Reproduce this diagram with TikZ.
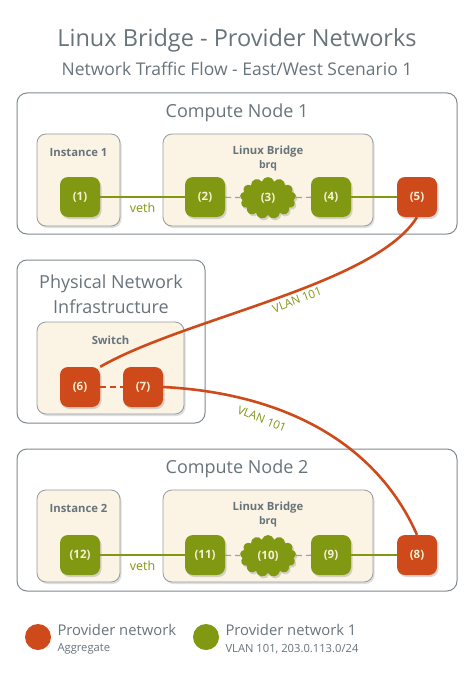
\documentclass[tikz,border=0pt]{standalone}
\usepackage{fontspec}
\setmainfont{Open Sans}
\usepackage{xcolor}
\usepackage{tikz}
\usetikzlibrary{arrows.meta, positioning}
\usetikzlibrary{shapes.symbols}
\usetikzlibrary{shadows}

\definecolor{provorange}{RGB}{206,74,26}
\definecolor{provgreen}{RGB}{128,152,18}
\definecolor{boxgray}{RGB}{128,138,144}
\definecolor{txtgray}{RGB}{104,116,123}
\definecolor{beige}{RGB}{251,244,228}
\definecolor{porttxt}{RGB}{246,241,212}

\tikzset{
  hostbox/.style={draw=boxgray, line width=1pt, rounded corners=10pt, fill=white},
  innerbox/.style={draw=boxgray!85, line width=0.8pt, rounded corners=9pt, fill=beige,
    drop shadow={opacity=0.25, shadow xshift=1.5pt, shadow yshift=-2pt}},
  port/.style={rounded corners=8pt, minimum size=40pt, inner sep=0pt, text=porttxt,
    font=\bfseries\fontsize{11.5}{13}\selectfont,
    drop shadow={opacity=0.3, shadow xshift=1.5pt, shadow yshift=-2pt}},
  gport/.style={port, fill=provgreen},
  oport/.style={port, fill=provorange},
  bridgecloud/.style={port, cloud, cloud puffs=13, cloud ignores aspect, rounded corners=0pt,
    minimum width=56pt, minimum height=42pt, fill=provgreen},
  hosttitle/.style={text=txtgray, font=\fontsize{18}{21}\selectfont},
  boxtitle/.style={text=txtgray, font=\bfseries\fontsize{11.3}{13}\selectfont},
  gline/.style={provgreen, line width=2.4pt},
  oline/.style={provorange, line width=2.6pt},
  dline/.style={draw=boxgray!80, line width=1.2pt, dash pattern=on 6pt off 4pt},
  vlan/.style={text=provgreen, font=\fontsize{11.5}{13}\selectfont},
  vethlbl/.style={text=provgreen, font=\fontsize{12.5}{14}\selectfont},
}

\begin{document}
\begin{tikzpicture}[x=1pt,y=-1pt]
  \fill[white] (0,0) rectangle (474,679);
  \useasboundingbox (0,0) rectangle (474,679);

  % titles
  \node[text=txtgray, font=\fontsize{23.5}{28}\selectfont] (title) at (237,40) {Linux Bridge - Provider Networks};
  \node[text=txtgray, font=\fontsize{17.5}{20}\selectfont] (subtitle) at (237,69) {Network Traffic Flow - East/West Scenario 1};

  % compute node 1
  \node[hostbox, minimum width=440pt, minimum height=141pt] (cn1) at (237,163.5) {};
  \node[hosttitle] (cn1lbl) at (237,113) {Compute Node 1};
  \node[innerbox, minimum width=83pt, minimum height=92pt] (inst1) at (78.5,180) {};
  \node[boxtitle] (inst1lbl) at (78.5,153) {Instance 1};
  \node[innerbox, minimum width=210pt, minimum height=92pt] (br1) at (268,180) {};
  \node[boxtitle] (br1lbl) at (268,152) {Linux Bridge};
  \node[boxtitle, font=\bfseries\fontsize{10.5}{12}\selectfont] (br1sub) at (268,166) {brq};

  % physical network
  \node[hostbox, minimum width=188pt, minimum height=163pt] (phys) at (111,341.5) {};
  \node[hosttitle, align=center, font=\fontsize{18}{25}\selectfont] (physlbl) at (111,294) {Physical Network\\Infrastructure};
  \node[innerbox, minimum width=147pt, minimum height=92pt] (sw) at (110.5,368) {};
  \node[boxtitle] (swlbl) at (110.5,340) {Switch};

  % compute node 2
  \node[hostbox, minimum width=440pt, minimum height=142pt] (cn2) at (237,520) {};
  \node[hosttitle] (cn2lbl) at (237,469) {Compute Node 2};
  \node[innerbox, minimum width=83pt, minimum height=92pt] (inst2) at (78.5,536) {};
  \node[boxtitle] (inst2lbl) at (78.5,508) {Instance 2};
  \node[innerbox, minimum width=210pt, minimum height=92pt] (br2) at (268,536) {};
  \node[boxtitle] (br2lbl) at (268,508) {Linux Bridge};
  \node[boxtitle, font=\bfseries\fontsize{10.5}{12}\selectfont] (br2sub) at (268,522) {brq};

  % ports
  \node[gport] (p1) at (80,197) {(1)};
  \node[gport] (p2) at (205,197) {(2)};
  \node[bridgecloud] (p3) at (268,198) {(3)};
  \node[gport] (p4) at (331,197) {(4)};
  \node[oport] (p5) at (417,197) {(5)};
  \node[oport] (p6) at (80,387) {(6)};
  \node[oport] (p7) at (143,387) {(7)};
  \node[oport] (p8) at (417,555) {(8)};
  \node[gport] (p9) at (331,555) {(9)};
  \node[bridgecloud] (p10) at (268,556) {(10)};
  \node[gport] (p11) at (205,555) {(11)};
  \node[gport] (p12) at (80,555) {(12)};

  % links
  \draw[gline] (p1) -- node[below=1pt, vethlbl] (veth1) {veth} (p2);
  \draw[dline] (p2) -- (p3);
  \draw[dline] (p3) -- (p4);
  \draw[gline] (p4) -- (p5);
  \draw[gline] (p12) -- node[below=1pt, vethlbl] (veth2) {veth} (p11);
  \draw[dline] (p11) -- (p10);
  \draw[dline] (p10) -- (p9);
  \draw[gline] (p9) -- (p8);
  \draw[provorange, line width=1.4pt, dash pattern=on 6pt off 4pt] (p6) -- (p7);

  \draw[oline] (p6.north east) .. controls (185,318) and (375,285) .. (p5.south);
  \draw[oline] (p7.east) .. controls (280,393) and (375,440) .. (p8.north);
  \node[vlan, rotate=21] (vlan1) at (297,300) {VLAN 101};
  \node[vlan, rotate=-22] (vlan2) at (262,419) {VLAN 101};

  % legend
  \fill[provorange] (38,637) circle (13);
  \node[anchor=west, text=txtgray, font=\fontsize{14.8}{17}\selectfont] (leg1) at (54,630) {Provider network};
  \node[anchor=west, text=txtgray, font=\fontsize{11.2}{13}\selectfont] (leg1sub) at (54,649) {Aggregate};
  \fill[provgreen] (206,637) circle (13);
  \node[anchor=west, text=txtgray, font=\fontsize{14.8}{17}\selectfont] (leg2) at (222,630) {Provider network 1};
  \node[anchor=west, text=txtgray, font=\fontsize{11.2}{13}\selectfont] (leg2sub) at (222,649) {VLAN 101, 203.0.113.0/24};
\end{tikzpicture}
\end{document}
